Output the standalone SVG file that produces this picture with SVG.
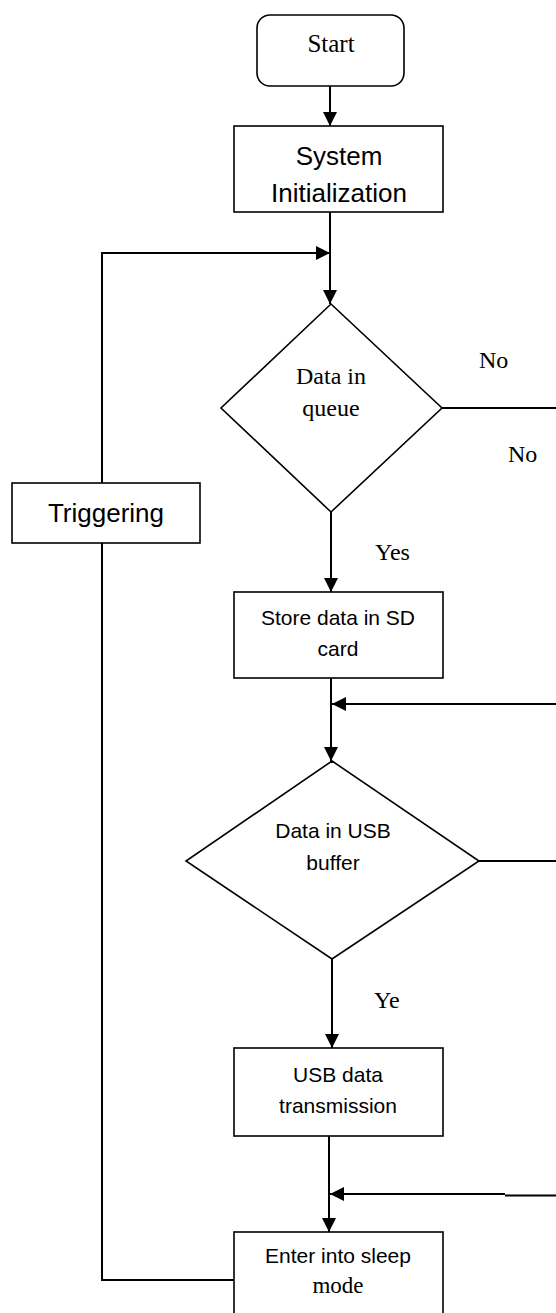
<svg xmlns="http://www.w3.org/2000/svg" width="556" height="1313" viewBox="0 0 556 1313">
<style>
.box{fill:#fff;stroke:#000;stroke-width:1.6}
.dia{fill:#fff;stroke:#000;stroke-width:1.6}
.ln{fill:none;stroke:#000;stroke-width:2}
.sans{font-family:"Liberation Sans",Arial,sans-serif;fill:#000;text-anchor:middle}
.serif{font-family:"Liberation Serif","Times New Roman",serif;fill:#000;text-anchor:middle}
.lbl{font-family:"Liberation Serif","Times New Roman",serif;fill:#000;font-size:24px}
</style>
<defs>
<marker id="ah" viewBox="0 0 14 14" refX="14" refY="7" markerWidth="14" markerHeight="14" markerUnits="userSpaceOnUse" orient="auto">
<path d="M0,0 L14,7 L0,14 Z" fill="#000"/>
</marker>
</defs>
<g id="connectors">
<line class="ln" x1="330" y1="86" x2="330" y2="126" marker-end="url(#ah)"/>
<line class="ln" x1="330" y1="212" x2="330" y2="304" marker-end="url(#ah)"/>
<line class="ln" x1="331" y1="512" x2="331" y2="592" marker-end="url(#ah)"/>
<line class="ln" x1="331" y1="678" x2="331" y2="761" marker-end="url(#ah)"/>
<line class="ln" x1="332" y1="959" x2="332" y2="1048" marker-end="url(#ah)"/>
<line class="ln" x1="329" y1="1136" x2="329" y2="1232" marker-end="url(#ah)"/>
<polyline class="ln" points="234,1280 102,1280 102,543"/>
<polyline class="ln" points="102,483 102,253 330,253" marker-end="url(#ah)"/>
<line class="ln" x1="442" y1="408" x2="556" y2="408"/>
<line class="ln" x1="479" y1="861" x2="556" y2="861"/>
<line class="ln" x1="556" y1="704" x2="332" y2="704" marker-end="url(#ah)"/>
<line class="ln" x1="556" y1="1195.5" x2="505" y2="1195.5"/>
<line class="ln" x1="505" y1="1194" x2="330" y2="1194" marker-end="url(#ah)"/>
</g>
<g id="start">
<rect class="box" x="257" y="15" width="147" height="71" rx="13"/>
<text class="serif" x="331" y="52" font-size="25">Start</text>
</g>
<g id="init">
<rect class="box" x="234" y="126" width="209" height="86"/>
<text class="sans" x="339" y="165" font-size="26">System</text>
<text class="sans" x="339" y="202" font-size="26">Initialization</text>
</g>
<g id="queue">
<polygon class="dia" points="331,304 442,408 331,512 221,408"/>
<text class="serif" x="331" y="384" font-size="24">Data in</text>
<text class="serif" x="331" y="416" font-size="24">queue</text>
</g>
<g id="trigger">
<rect class="box" x="12" y="483" width="188" height="60"/>
<text class="sans" x="106" y="522" font-size="26">Triggering</text>
</g>
<g id="store">
<rect class="box" x="234" y="592" width="209" height="86"/>
<text class="sans" x="338" y="625" font-size="21">Store data in SD</text>
<text class="sans" x="338" y="656" font-size="21">card</text>
</g>
<g id="usbbuf">
<polygon class="dia" points="332,761 479,861 332,959 186,861"/>
<text class="sans" x="333" y="838" font-size="21">Data in USB</text>
<text class="sans" x="333" y="870" font-size="21">buffer</text>
</g>
<g id="usbtx">
<rect class="box" x="234" y="1048" width="209" height="88"/>
<text class="sans" x="338" y="1082" font-size="21">USB data</text>
<text class="sans" x="338" y="1113" font-size="21">transmission</text>
</g>
<g id="sleep">
<rect class="box" x="234" y="1232" width="209" height="100"/>
<text class="sans" x="338" y="1263" font-size="21">Enter into sleep</text>
<text class="serif" x="338" y="1293" font-size="23">mode</text>
</g>
<g id="labels">
<text class="lbl" x="479" y="368">No</text>
<text class="lbl" x="508" y="462">No</text>
<text class="lbl" x="375" y="560">Yes</text>
<text class="lbl" x="374" y="1008">Ye</text>
</g>
</svg>
